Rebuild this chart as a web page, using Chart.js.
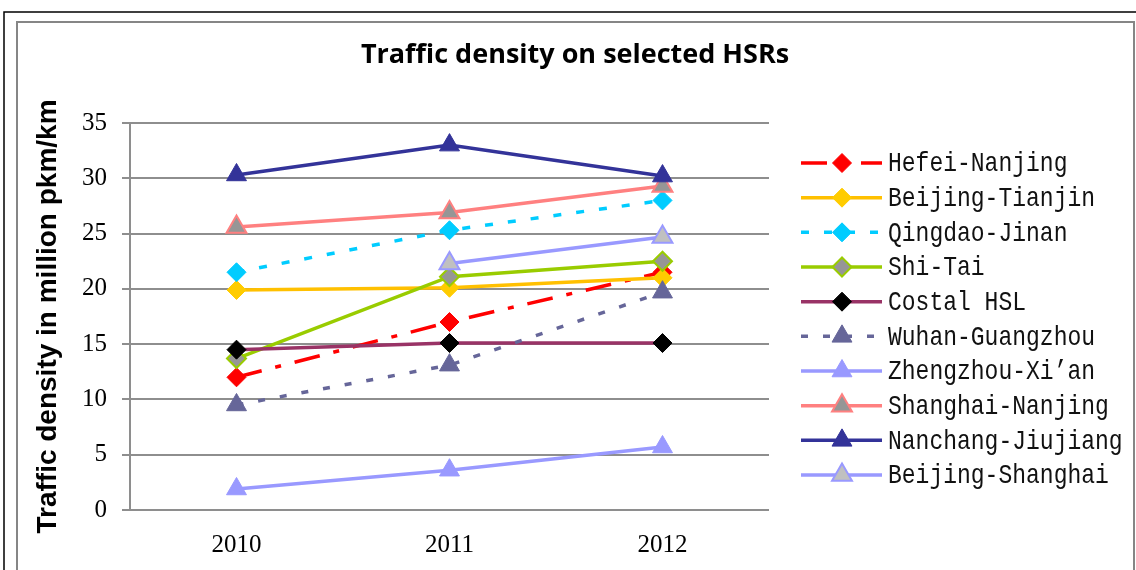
<!DOCTYPE html>
<html>
<head>
<meta charset="utf-8">
<script src="https://cdn.jsdelivr.net/npm/chart.js@4.4.1/dist/chart.umd.min.js"></script>
<style>
  html, body { margin: 0; padding: 0; background: #fff; }
  #wrap { position: relative; width: 1136px; height: 570px; }
</style>
</head>
<body>
<div id="wrap"><canvas id="chart" width="1136" height="570"></canvas></div>
<script>
// 数据
const years = ['2010', '2011', '2012'];
const yTicks = [0, 5, 10, 15, 20, 25, 30, 35];
const seriesNames = [
  'Hefei-Nanjing', 'Beijing-Tianjin', 'Qingdao-Jinan', 'Shi-Tai', 'Costal HSL',
  'Wuhan-Guangzhou', 'Zhengzhou-Xi\u2019an', 'Shanghai-Nanjing', 'Nanchang-Jiujiang', 'Beijing-Shanghai'
];
const hefeiNanjing = [12.0, 17.0, 21.5];
const beijingTianjin = [19.9, 20.1, 21.0];
const qingdaoJinan = [21.5, 25.3, 28.0];
const shiTai = [13.7, 21.1, 22.5];
const costalHSL = [14.5, 15.1, 15.1];
const wuhanGuangzhou = [9.5, 13.1, 19.7];
const zhengzhouXian = [1.9, 3.6, 5.7];
const shanghaiNanjing = [25.6, 26.9, 29.3];
const nanchangJiujiang = [30.3, 33.0, 30.2];
const beijingShanghai = [null, 22.3, 24.7];

const seriesData = [
  hefeiNanjing, beijingTianjin, qingdaoJinan, shiTai, costalHSL,
  wuhanGuangzhou, zhengzhouXian, shanghaiNanjing, nanchangJiujiang, beijingShanghai
];

// 样式
const styles = [
  { line: '#ff0000', dash: [26, 14, 6, 14], marker: 'rectRot', fill: '#ff0000', border: '#ff0000', bw: 1 },
  { line: '#ffc000', dash: [], marker: 'rectRot', fill: '#ffcc00', border: '#ffcc00', bw: 1 },
  { line: '#00ccff', dash: [8, 15], marker: 'rectRot', fill: '#00ccff', border: '#00ccff', bw: 1 },
  { line: '#99cc00', dash: [], marker: 'rectRot', fill: '#969696', border: '#99cc00', bw: 2 },
  { line: '#993366', dash: [], marker: 'rectRot', fill: '#000000', border: '#000000', bw: 1 },
  { line: '#666699', dash: [7, 15], marker: 'triangle', fill: '#666699', border: '#666699', bw: 1 },
  { line: '#9999ff', dash: [], marker: 'triangle', fill: '#9999ff', border: '#9999ff', bw: 1 },
  { line: '#ff8080', dash: [], marker: 'triangle', fill: '#969696', border: '#ff8080', bw: 2 },
  { line: '#333399', dash: [], marker: 'triangle', fill: '#333399', border: '#333399', bw: 1 },
  { line: '#9999ff', dash: [], marker: 'triangle', fill: '#c0c0c0', border: '#9999ff', bw: 2 }
];

const gridColor = '#8e8e8e';
const tickFont = { family: '"Liberation Serif", serif', size: 25 };

const datasets = seriesNames.map((name, i) => ({
  label: name,
  data: seriesData[i],
  borderColor: styles[i].line,
  borderDash: styles[i].dash,
  borderWidth: 3.5,
  tension: 0,
  spanGaps: false,
  pointStyle: styles[i].marker,
  pointRadius: styles[i].marker === 'triangle' ? 11.5 : 9.5,
  pointHoverRadius: styles[i].marker === 'triangle' ? 11.5 : 9.5,
  pointBackgroundColor: styles[i].fill,
  pointBorderColor: styles[i].border,
  pointBorderWidth: styles[i].bw,
  order: seriesNames.length - i   // 后面的系列画在上面
}));

// 外框 + 标题 + 图例
const decorPlugin = {
  id: 'decor',
  beforeDraw(chart) {
    const c = chart.ctx;
    c.save();
    c.fillStyle = '#fff';
    c.fillRect(0, 0, chart.width, chart.height);
    // 黑色外框
    c.strokeStyle = '#000';
    c.lineWidth = 1.5;
    c.beginPath();
    c.moveTo(4, 580); c.lineTo(4, 12); c.lineTo(1136, 12);
    c.stroke();
    // 灰色内框
    c.strokeStyle = '#868686';
    c.lineWidth = 2;
    c.beginPath();
    c.moveTo(17, 580); c.lineTo(17, 22); c.lineTo(1134, 22); c.lineTo(1134, 580);
    c.stroke();
    c.restore();
  },
  afterDraw(chart) {
    const c = chart.ctx;
    c.save();
    // 标题
    c.fillStyle = '#000';
    c.font = 'bold 27px "Open Sans", sans-serif';
    c.textAlign = 'center';
    c.textBaseline = 'middle';
    c.fillText('Traffic density on selected HSRs', 575, 55);

    // 图例
    const x0 = 801, x1 = 882, mx = 842, tx = 888;
    chart.data.datasets.forEach((ds, i) => {
      const y = 163 + i * 34.67;
      c.strokeStyle = ds.borderColor;
      c.lineWidth = 3.5;
      c.setLineDash(ds.borderDash || []);
      c.beginPath();
      c.moveTo(x0, y);
      c.lineTo(x1, y);
      c.stroke();
      c.setLineDash([]);
      c.fillStyle = ds.pointBackgroundColor;
      c.strokeStyle = ds.pointBorderColor;
      c.lineWidth = ds.pointBorderWidth;
      Chart.helpers.drawPoint(c, {
        pointStyle: ds.pointStyle,
        radius: ds.pointRadius,
        rotation: 0,
        borderWidth: ds.pointBorderWidth
      }, mx, y);
      // 文字略微纵向拉伸
      c.save();
      c.translate(tx, y + 1);
      c.scale(1, 1.2);
      c.textAlign = 'left';
      c.textBaseline = 'middle';
      c.font = '23px "Liberation Mono", monospace';
      c.fillStyle = '#111';
      c.fillText(ds.label, 0, 0);
      c.restore();
    });
    c.restore();
  }
};

new Chart(document.getElementById('chart'), {
  type: 'line',
  data: { labels: years, datasets },
  options: {
    responsive: false,
    animation: false,
    layout: { padding: { left: 20, top: 123, right: 367, bottom: 0 } },
    plugins: {
      legend: { display: false },
      title: { display: false },
      tooltip: { enabled: false }
    },
    scales: {
      x: {
        type: 'category',
        offset: true,
        grid: { display: false, drawTicks: false },
        border: { display: false },
        ticks: { color: '#000', padding: 20, font: tickFont },
        afterFit(scale) { scale.height = 60; }
      },
      y: {
        min: 0,
        max: 35,
        afterBuildTicks(scale) { scale.ticks = yTicks.map(v => ({ value: v })); },
        grid: { color: gridColor, lineWidth: 2, tickLength: 8 },
        border: { display: true, color: gridColor, width: 2 },
        ticks: { color: '#000', padding: 15, font: tickFont },
        title: {
          display: true,
          text: 'Traffic density in million pkm/km',
          color: '#000',
          font: { family: '"Liberation Sans", Arial, sans-serif', size: 28, weight: 'bold' },
          padding: { top: 11, bottom: 0 }
        },
        afterFit(scale) { scale.width = 110; }
      }
    }
  },
  plugins: [decorPlugin]
});
</script>
</body>
</html>
